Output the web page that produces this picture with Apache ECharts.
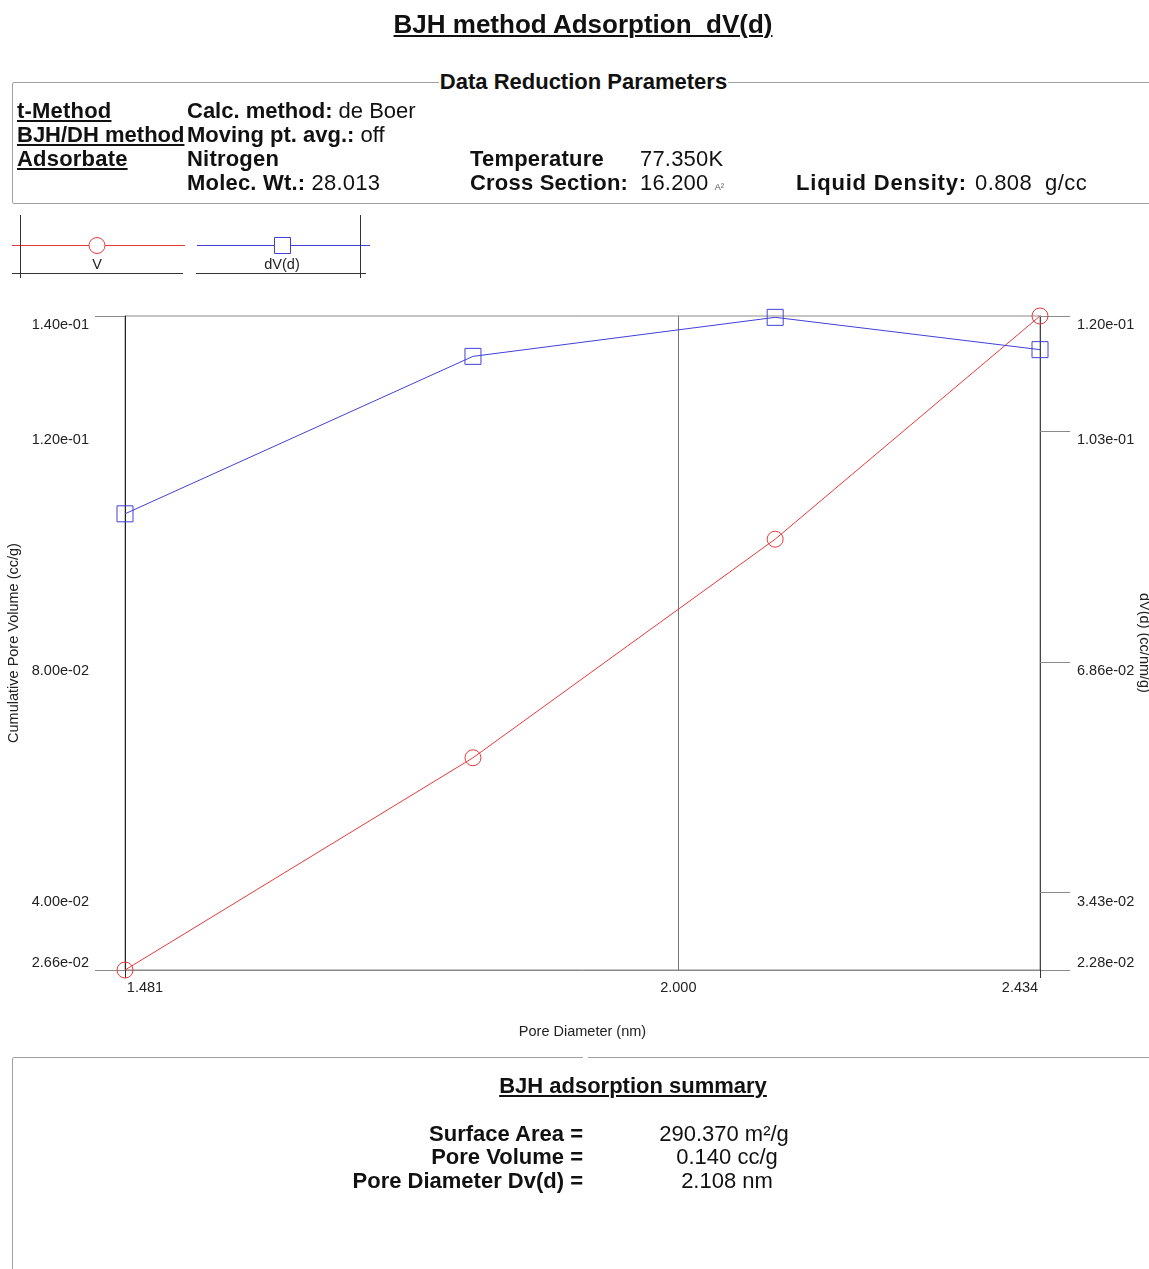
<!DOCTYPE html>
<html>
<head>
<meta charset="utf-8">
<script src="https://cdn.jsdelivr.net/npm/echarts@6/dist/echarts.min.js"></script>
<style>
  html, body { margin:0; padding:0; background:#fff; }
  body { width:1149px; height:1269px; position:relative; overflow:hidden; font-family: Arial, "Liberation Sans", sans-serif; color:#111; }
  #chart { position:absolute; left:0; top:0; width:1149px; height:1269px; }
  .t { position:absolute; white-space:nowrap; font-size:22px; line-height:24px; letter-spacing:0.2px; }
  .b { font-weight:bold; }
  .u { text-decoration:underline; text-decoration-thickness:2px; text-underline-offset:2px; }
  .box { position:absolute; border:1.5px solid #a0a0a0; border-radius:2px; }
</style>
</head>
<body>
<div id="chart"></div>

<div class="t b u" style="left:0;width:1166px;text-align:center;top:9px;font-size:26px;line-height:30px;letter-spacing:0;">BJH method Adsorption&nbsp; dV(d)</div>

<div class="box" style="left:12px;top:82px;width:1160px;height:120px;"></div>
<div class="t b" style="left:0;width:1167px;text-align:center;top:70px;font-size:22px;letter-spacing:0;"><span style="background:#fff;padding:0 1px;">Data Reduction Parameters</span></div>
<div class="t b u" style="left:17px;top:99px;">t-Method</div>
<div class="t b u" style="left:17px;top:123px;letter-spacing:0;">BJH/DH method</div>
<div class="t b u" style="left:17px;top:147px;">Adsorbate</div>
<div class="t" style="left:187px;top:99px;letter-spacing:0;"><b>Calc. method:</b> de Boer</div>
<div class="t" style="left:187px;top:123px;letter-spacing:0;"><b>Moving pt. avg.:</b> off</div>
<div class="t b" style="left:187px;top:147px;">Nitrogen</div>
<div class="t" style="left:187px;top:171px;"><b>Molec. Wt.:</b> 28.013</div>
<div class="t b" style="left:470px;top:147px;">Temperature</div>
<div class="t" style="left:640px;top:147px;">77.350K</div>
<div class="t b" style="left:470px;top:171px;">Cross Section:</div>
<div class="t" style="left:640px;top:171px;">16.200 <span style="font-size:9px;color:#555;">A²</span></div>
<div class="t b" style="left:796px;top:171px;letter-spacing:0.8px;">Liquid Density:</div>
<div class="t" style="left:975px;top:171px;letter-spacing:0.4px;">0.808&nbsp; g/cc</div>

<div class="box" style="left:12px;top:1057px;width:1160px;height:260px;"></div>
<div style="position:absolute;left:583px;top:1054px;width:5px;height:6px;background:#fff;"></div>
<div class="t b u" style="left:400px;width:466px;text-align:center;top:1074px;font-size:22px;letter-spacing:0;">BJH adsorption summary</div>
<div class="t b" style="left:0;width:583px;text-align:right;top:1122px;letter-spacing:0;">Surface Area =</div>
<div class="t b" style="left:0;width:583px;text-align:right;top:1145px;letter-spacing:0;">Pore Volume =</div>
<div class="t b" style="left:0;width:583px;text-align:right;top:1169px;letter-spacing:0;">Pore Diameter Dv(d) =</div>
<div class="t" style="left:624px;width:200px;text-align:center;top:1122px;letter-spacing:0;">290.370 m²/g</div>
<div class="t" style="left:627px;width:200px;text-align:center;top:1145px;letter-spacing:0;">0.140 cc/g</div>
<div class="t" style="left:627px;width:200px;text-align:center;top:1169px;letter-spacing:0;">2.108 nm</div>

<script>
// ---- data ----
var poreDiameter = [1.481, 1.789, 2.108, 2.434];          // nm
var cumulativeVolume = [0.0266, 0.0634, 0.1013, 0.1400];  // cc/g (left axis)
var dVd = [0.0906, 0.1140, 0.1198, 0.1150];               // cc/nm/g (right axis)

var xTickValues = [1.481, 2.000, 2.434];
var xEdgeTicks = [1.481, 2.434];
var xGridLine = [2.000];
var leftTickValues = [0.0266, 0.04, 0.08, 0.12, 0.14];
var leftEdgeTicks = [0.0266, 0.14];
var rightTickValues = [0.0228, 0.0343, 0.0686, 0.1029, 0.12];

var RED = '#e8393a';
var BLUE = '#4040d8';
var FONT = 'Arial, "Liberation Sans", sans-serif';
var TICK_FS = 14.5;

function expFmt(v) {
  var s = Number(v).toExponential(2);
  return s.replace(/e([+-])(\d+)$/, function (m, sg, d) { return 'e' + sg + (d.length < 2 ? '0' + d : d); });
}

var chart = echarts.init(document.getElementById('chart'), null, { renderer: 'canvas' });

function pairs(xs, ys) { return xs.map(function (x, i) { return [x, ys[i]]; }); }

var option = {
  animation: false,
  backgroundColor: 'transparent',
  grid: { left: 125, right: 109, top: 316, bottom: 299, show: true, borderColor: '#8a8a8a', borderWidth: 1, outerBoundsMode: 'none', containLabel: false },
  xAxis: {
    type: 'log',
    logBase: 10,
    min: 1.481,
    max: 2.434,
    name: 'Pore Diameter (nm)',
    nameLocation: 'middle',
    nameGap: 54,
    nameTextStyle: { fontFamily: FONT, fontSize: 14.5, color: '#222' },
    axisLine: { show: true, lineStyle: { color: '#8a8a8a', width: 1 } },
    axisTick: { show: true, customValues: xEdgeTicks, length: 8, lineStyle: { color: '#333' } },
    splitLine: { show: false },
    axisLabel: {
      customValues: xTickValues,
      margin: 10,
      fontFamily: FONT, fontSize: TICK_FS, color: '#222',
      formatter: function (v) {
        var s = Number(v).toFixed(3);
        if (Math.abs(v - xTickValues[0]) < 1e-6) return '{l|' + s + '}';
        if (Math.abs(v - xTickValues[xTickValues.length - 1]) < 1e-6) return '{r|' + s + '}';
        return '{m|' + s + '}';
      },
      rich: {
        l: { padding: [0, 0, 0, 40], fontFamily: FONT, fontSize: TICK_FS, color: '#222' },
        r: { padding: [0, 40, 0, 0], fontFamily: FONT, fontSize: TICK_FS, color: '#222' },
        m: { fontFamily: FONT, fontSize: TICK_FS, color: '#222' }
      }
    }
  },
  yAxis: [
    {
      type: 'value',
      min: 0.0266,
      max: 0.14,
      name: 'Cumulative Pore Volume (cc/g)',
      nameLocation: 'middle',
      nameGap: 104,
      nameRotate: 90,
      nameMoveOverlap: false,
      nameTextStyle: { fontFamily: FONT, fontSize: 14.5, color: '#222' },
      axisLine: { show: true, lineStyle: { color: '#222', width: 1 } },
      axisTick: { show: true, customValues: leftEdgeTicks, length: 30, lineStyle: { color: '#8a8a8a' } },
      splitLine: { show: false },
      axisLabel: {
        customValues: leftTickValues,
        margin: 36,
        fontFamily: FONT, fontSize: TICK_FS, color: '#222',
        formatter: function (v) {
          if (Math.abs(v - leftTickValues[0]) < 1e-7) return '{b|' + expFmt(v) + '}';
          return '{t|' + expFmt(v) + '}';
        },
        rich: {
          t: { padding: [18, 0, 0, 0], fontFamily: FONT, fontSize: TICK_FS, color: '#222' },
          b: { padding: [0, 0, 14, 0], fontFamily: FONT, fontSize: TICK_FS, color: '#222' }
        }
      }
    },
    {
      type: 'value',
      min: 0.0228,
      max: 0.12,
      position: 'right',
      name: 'dV(d) (cc/nm/g)',
      nameLocation: 'middle',
      nameGap: 96,
      nameRotate: -90,
      nameMoveOverlap: false,
      nameTextStyle: { fontFamily: FONT, fontSize: 14.5, color: '#222' },
      axisLine: { show: true, lineStyle: { color: '#444', width: 1 } },
      axisTick: { show: true, customValues: rightTickValues, length: 30, lineStyle: { color: '#8a8a8a' } },
      splitLine: { show: false },
      axisLabel: {
        customValues: rightTickValues,
        margin: 37,
        fontFamily: FONT, fontSize: TICK_FS, color: '#222',
        formatter: function (v) {
          if (Math.abs(v - rightTickValues[0]) < 1e-7) return '{b|' + expFmt(v) + '}';
          return '{t|' + expFmt(v) + '}';
        },
        rich: {
          t: { padding: [18, 0, 0, 0], fontFamily: FONT, fontSize: TICK_FS, color: '#222' },
          b: { padding: [0, 0, 14, 0], fontFamily: FONT, fontSize: TICK_FS, color: '#222' }
        }
      }
    }
  ],
  series: [
    {
      name: 'V',
      type: 'line',
      yAxisIndex: 0,
      data: pairs(poreDiameter, cumulativeVolume),
      symbol: 'circle',
      symbolSize: 16,
      showAllSymbol: true,
      clip: true,
      lineStyle: { color: RED, width: 1 },
      itemStyle: { color: 'rgba(255,255,255,0)', borderColor: RED, borderWidth: 1 },
      z: 3,
      markLine: {
        silent: true,
        symbol: 'none',
        label: { show: false },
        lineStyle: { color: '#777', type: 'solid', width: 1 },
        data: xGridLine.map(function (x) { return { xAxis: x }; }),
        z: 1
      }
    },
    {
      name: 'dV(d)',
      type: 'line',
      yAxisIndex: 1,
      data: pairs(poreDiameter, dVd),
      symbol: 'rect',
      symbolSize: 16,
      showAllSymbol: true,
      clip: true,
      lineStyle: { color: BLUE, width: 1 },
      itemStyle: { color: 'rgba(255,255,255,0)', borderColor: BLUE, borderWidth: 1 },
      z: 3
    }
  ],
  graphic: [
    { type: 'line', shape: { x1: 12, y1: 245.5, x2: 185, y2: 245.5 }, style: { stroke: RED, lineWidth: 1 } },
    { type: 'circle', shape: { cx: 97, cy: 245.5, r: 8 }, style: { stroke: RED, fill: '#fff', lineWidth: 1 } },
    { type: 'line', shape: { x1: 20.5, y1: 215, x2: 20.5, y2: 278 }, style: { stroke: '#333', lineWidth: 1 } },
    { type: 'line', shape: { x1: 12, y1: 273.5, x2: 183, y2: 273.5 }, style: { stroke: '#333', lineWidth: 1 } },
    { type: 'text', x: 97, y: 265, style: { text: 'V', fontFamily: FONT, fontSize: 14.5, fill: '#222', align: 'center', verticalAlign: 'middle' } },
    { type: 'line', shape: { x1: 197, y1: 245.5, x2: 370, y2: 245.5 }, style: { stroke: BLUE, lineWidth: 1 } },
    { type: 'rect', shape: { x: 274.5, y: 237.5, width: 16, height: 16 }, style: { stroke: BLUE, fill: '#fff', lineWidth: 1 } },
    { type: 'line', shape: { x1: 360.5, y1: 215, x2: 360.5, y2: 278 }, style: { stroke: '#333', lineWidth: 1 } },
    { type: 'line', shape: { x1: 196, y1: 273.5, x2: 366, y2: 273.5 }, style: { stroke: '#333', lineWidth: 1 } },
    { type: 'text', x: 282, y: 265, style: { text: 'dV(d)', fontFamily: FONT, fontSize: 14.5, fill: '#222', align: 'center', verticalAlign: 'middle' } }
  ]
};

chart.setOption(option);
</script>
</body>
</html>
